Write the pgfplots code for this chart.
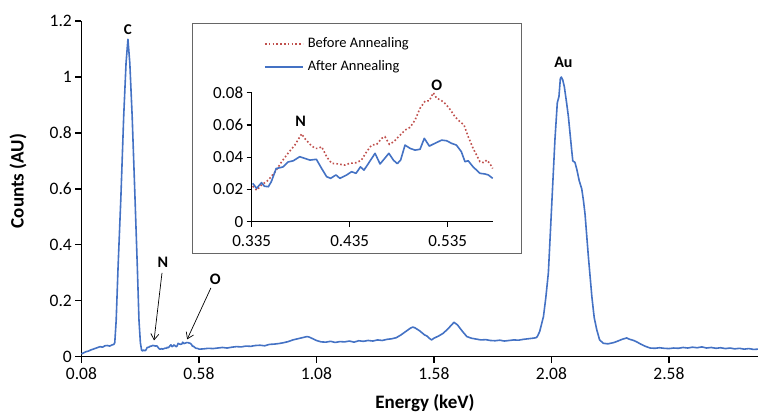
\documentclass[border=0pt]{standalone}
\usepackage{fontspec}
\setmainfont{Carlito}
\usepackage{pgfplots}
\pgfplotsset{compat=1.18}
\usetikzlibrary{arrows.meta}
\definecolor{ablue}{RGB}{68,114,196}
\definecolor{bred}{RGB}{192,80,77}

\pgfplotstableread{
x y
0.080 0.010
0.090 0.014
0.100 0.018
0.110 0.020
0.120 0.024
0.130 0.027
0.140 0.030
0.150 0.033
0.160 0.036
0.170 0.034
0.180 0.039
0.190 0.040
0.200 0.038
0.210 0.042
0.218 0.044
0.222 0.050
0.228 0.13
0.236 0.32
0.248 0.57
0.260 0.86
0.270 1.05
0.278 1.135
0.286 1.05
0.296 0.86
0.308 0.57
0.318 0.32
0.325 0.13
0.331 0.05
0.336 0.0238
0.340 0.0207
0.345 0.0242
0.348 0.022
0.352 0.0217
0.355 0.0248
0.360 0.033
0.364 0.0335
0.367 0.034
0.372 0.037
0.3775 0.0378
0.384 0.0403
0.389 0.0393
0.3945 0.0382
0.401 0.0387
0.4064 0.033
0.4115 0.0279
0.4156 0.0269
0.421 0.029
0.425 0.0269
0.432 0.029
0.437 0.031
0.4415 0.030
0.446 0.034
0.4496 0.032
0.454 0.036
0.4609 0.0424
0.466 0.0358
0.470 0.0387
0.475 0.0424
0.4796 0.0382
0.4836 0.036
0.487 0.0382
0.4915 0.0475
0.4966 0.0455
0.5017 0.0444
0.5068 0.0449
0.5112 0.0517
0.5163 0.0469
0.522 0.0486
0.5289 0.0506
0.534 0.0502
0.539 0.0486
0.544 0.0475
0.549 0.0434
0.5527 0.0372
0.556 0.0378
0.561 0.034
0.568 0.030
0.573 0.0296
0.5765 0.029
0.581 0.0269
0.60 0.028
0.62 0.030
0.64 0.029
0.66 0.031
0.68 0.033
0.70 0.031
0.72 0.034
0.74 0.036
0.76 0.035
0.78 0.038
0.80 0.037
0.82 0.040
0.84 0.041
0.86 0.039
0.88 0.044
0.90 0.045
0.92 0.047
0.94 0.050
0.96 0.054
0.98 0.060
1.00 0.064
1.02 0.068
1.04 0.072
1.05 0.070
1.06 0.066
1.08 0.058
1.10 0.053
1.12 0.052
1.14 0.055
1.16 0.051
1.18 0.054
1.20 0.053
1.22 0.056
1.24 0.052
1.26 0.057
1.28 0.055
1.30 0.058
1.32 0.056
1.34 0.060
1.36 0.058
1.38 0.062
1.40 0.064
1.42 0.068
1.44 0.078
1.46 0.090
1.48 0.102
1.49 0.106
1.50 0.103
1.52 0.092
1.54 0.078
1.55 0.074
1.56 0.066
1.57 0.060
1.58 0.066
1.60 0.074
1.62 0.084
1.64 0.100
1.66 0.118
1.665 0.123
1.68 0.114
1.70 0.092
1.72 0.072
1.74 0.066
1.76 0.063
1.78 0.060
1.80 0.061
1.82 0.058
1.84 0.057
1.86 0.059
1.88 0.056
1.90 0.058
1.92 0.060
1.94 0.059
1.96 0.062
1.98 0.064
2.00 0.066
2.015 0.068
2.02 0.072
2.03 0.09
2.046 0.143
2.056 0.21
2.067 0.30
2.081 0.538
2.095 0.777
2.105 0.908
2.112 0.93
2.118 0.995
2.122 1.0
2.128 0.99
2.135 0.965
2.145 0.905
2.152 0.86
2.159 0.80
2.166 0.74
2.171 0.70
2.180 0.695
2.188 0.67
2.198 0.63
2.209 0.60
2.216 0.56
2.223 0.51
2.237 0.36
2.252 0.215
2.262 0.14
2.273 0.096
2.285 0.06
2.301 0.048
2.32 0.046
2.343 0.050
2.36 0.055
2.38 0.062
2.40 0.067
2.41 0.063
2.43 0.058
2.443 0.053
2.46 0.045
2.48 0.037
2.50 0.031
2.52 0.030
2.54 0.032
2.56 0.030
2.58 0.029
2.60 0.031
2.62 0.030
2.64 0.033
2.66 0.031
2.68 0.034
2.70 0.032
2.72 0.035
2.74 0.031
2.76 0.033
2.78 0.030
2.80 0.032
2.82 0.029
2.84 0.031
2.86 0.028
2.88 0.030
2.90 0.027
2.92 0.029
2.94 0.026
2.959 0.027
}\mainafter

\pgfplotstableread{
x y
0.336 0.0238
0.340 0.0207
0.345 0.0242
0.348 0.022
0.352 0.0217
0.355 0.0248
0.360 0.033
0.364 0.0335
0.367 0.034
0.372 0.037
0.3775 0.0378
0.384 0.0403
0.389 0.0393
0.3945 0.0382
0.401 0.0387
0.4064 0.033
0.4115 0.0279
0.4156 0.0269
0.421 0.029
0.425 0.0269
0.432 0.029
0.437 0.031
0.4415 0.030
0.446 0.034
0.4496 0.032
0.454 0.036
0.4609 0.0424
0.466 0.0358
0.470 0.0387
0.475 0.0424
0.4796 0.0382
0.4836 0.036
0.487 0.0382
0.4915 0.0475
0.4966 0.0455
0.5017 0.0444
0.5068 0.0449
0.5112 0.0517
0.5163 0.0469
0.522 0.0486
0.5289 0.0506
0.534 0.0502
0.539 0.0486
0.544 0.0475
0.549 0.0434
0.5527 0.0372
0.556 0.0378
0.561 0.034
0.568 0.030
0.573 0.0296
0.5765 0.029
0.581 0.0269
}\insetafter

\pgfplotstableread{
x y
0.336 0.022
0.340 0.0196
0.345 0.0227
0.352 0.0258
0.359 0.031
0.3656 0.0372
0.372 0.0424
0.379 0.0475
0.386 0.0545
0.389 0.0517
0.3945 0.048
0.3996 0.0455
0.403 0.0455
0.4064 0.0465
0.4115 0.0403
0.4166 0.0362
0.4234 0.0358
0.430 0.0351
0.435 0.0362
0.442 0.0366
0.447 0.0382
0.4523 0.0434
0.4574 0.0475
0.4626 0.048
0.4677 0.0517
0.471 0.0527
0.4755 0.048
0.480 0.0496
0.4864 0.0537
0.4915 0.0568
0.4966 0.0585
0.5017 0.063
0.5068 0.0703
0.512 0.0748
0.5163 0.075
0.5204 0.080
0.5238 0.0765
0.5279 0.0755
0.5323 0.0734
0.5374 0.0697
0.5425 0.0651
0.5476 0.062
0.5517 0.060
0.556 0.0527
0.561 0.0455
0.568 0.0372
0.572 0.0366
0.5748 0.0382
0.578 0.0362
0.581 0.033
}\insetbefore

\begin{document}
\begin{tikzpicture}[x=1pt,y=1pt]
\useasboundingbox (0,0) rectangle (758,412);
\begin{axis}[
  at={(81.4pt,55.3pt)}, anchor=south west,
  scale only axis, width=676.6pt, height=335.6pt,
  xmin=0.08, xmax=2.959, ymin=0, ymax=1.2,
  axis x line*=bottom, axis y line*=left,
  axis line style={line width=1.3pt, black, -},
  tick style={line width=1.3pt, black},
  tick align=outside, major tick length=6pt,
  xtick={0.08,0.58,1.08,1.58,2.08,2.58},
  xticklabels={0.08,0.58,1.08,1.58,2.08,2.58},
  ytick={0,0.2,0.4,0.6,0.8,1,1.2},
  yticklabels={0,0.2,0.4,0.6,0.8,1,1.2},
  scaled ticks=false,
  tick label style={font=\fontsize{17.5}{17.5}\selectfont},
  xticklabel style={yshift=-1pt},
  /pgf/number format/assume math mode=true,
  clip=false,
]
\addplot[color=ablue, line width=1.6pt, line join=round] table[x=x,y=y] {\mainafter};
\node[font=\bfseries\fontsize{15}{15}\selectfont] at (axis cs:0.278,1.171) {C};
\node[font=\bfseries\fontsize{16}{16}\selectfont] at (axis cs:2.131,1.052) {Au};
\node[font=\bfseries\fontsize{16}{16}\selectfont] at (axis cs:0.427,0.336) {N};
\node[font=\bfseries\fontsize{16}{16}\selectfont] at (axis cs:0.65,0.278) {O};
\draw[-{Straight Barb[length=6pt,width=8pt]}, line width=0.7pt] (axis cs:0.423,0.30) -- (axis cs:0.389,0.058);
\draw[-{Straight Barb[length=6pt,width=8pt]}, line width=0.7pt] (axis cs:0.631,0.246) -- (axis cs:0.53,0.062);
\end{axis}
\node[rotate=90, font=\bfseries\fontsize{19}{19}\selectfont] at (18,231) {Counts (AU)};
\node[font=\bfseries\fontsize{19}{19}\selectfont, anchor=south, inner sep=0pt] at (425,0.5) {Energy (keV)};
\draw[gray!80!black, line width=0.8pt, fill=white] (192,159) rectangle (521,389);
\begin{axis}[
  at={(251.7pt,190.3pt)}, anchor=south west,
  scale only axis, width=241pt, height=129pt,
  xmin=0.335, xmax=0.581, ymin=0, ymax=0.08,
  axis x line*=bottom, axis y line*=left,
  axis line style={line width=1.3pt, black, -},
  tick style={line width=1.3pt, black},
  tick align=outside, major tick length=5pt,
  xtick={0.335,0.435,0.535},
  xticklabels={0.335,0.435,0.535},
  ytick={0,0.02,0.04,0.06,0.08},
  yticklabels={0,0.02,0.04,0.06,0.08},
  scaled ticks=false,
  tick label style={font=\fontsize{17}{17}\selectfont},
  xticklabel style={yshift=-5pt},
  /pgf/number format/assume math mode=true,
  clip=false,
  legend cell align=left,
  legend image code/.code={\draw[#1] (0pt,0pt) -- (38pt,0pt);},
  legend style={at={(0.051,1.288)}, anchor=west, draw=none, fill=none,
    inner sep=0pt, row sep=10pt, column sep=4pt,
    nodes={inner sep=0pt, text height=10pt, text depth=3pt},
    font=\fontsize{14.5}{14.5}\selectfont},
]
\addplot[color=bred, line width=1.6pt, dash pattern=on 1.6pt off 2.2pt] table[x=x,y=y] {\insetbefore};
\addlegendentry{Before Annealing}
\addplot[color=ablue, line width=1.6pt, line join=round] table[x=x,y=y] {\insetafter};
\addlegendentry{After Annealing}
\node[font=\bfseries\fontsize{16}{16}\selectfont] at (axis cs:0.385,0.062) {N};
\node[font=\bfseries\fontsize{16}{16}\selectfont] at (axis cs:0.5238,0.0848) {O};
\end{axis}
\end{tikzpicture}
\end{document}
